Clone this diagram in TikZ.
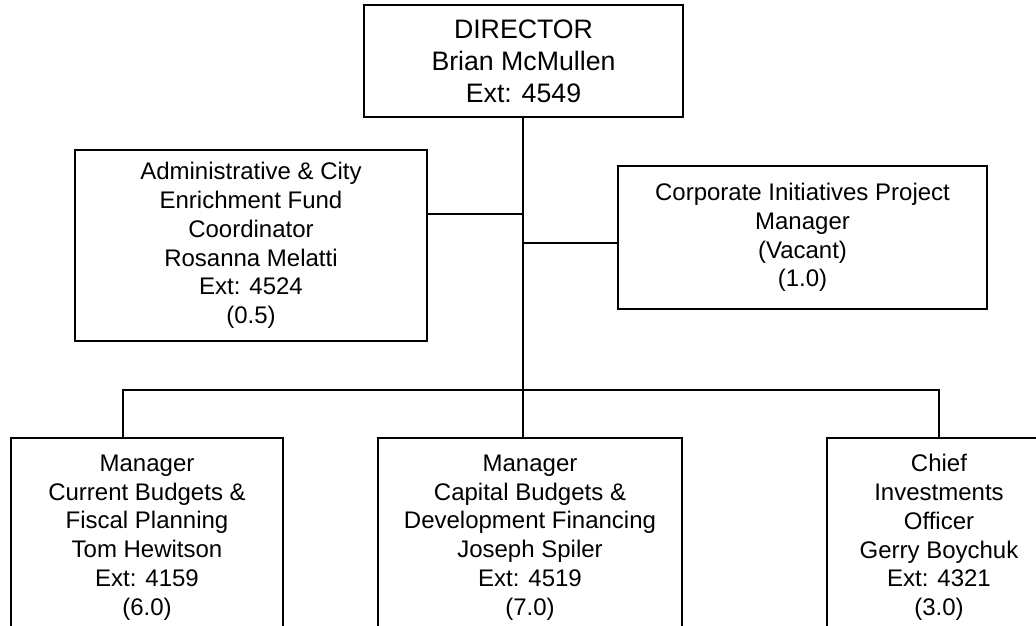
\documentclass[tikz,border=0pt]{standalone}
\usepackage{fontspec}
\setmainfont{Liberation Sans}
\usepackage{tikz}

\tikzset{
    post/.style={draw, line width=2.2pt, inner sep=0pt, align=center,
        font={\fontsize{24}{28.7}\selectfont}},
    link/.style={line width=2pt}
}

\begin{document}
\begin{tikzpicture}[x=1pt, y=-1pt]
    \clip (0, 0) rectangle (1036, 626);
    % Director
    \node [post, minimum width=319, minimum height=112,
        font={\fontsize{26.7}{32}\selectfont}] (director) at (523.5, 61)
        {DIRECTOR\\Brian McMullen\\Ext: 4549};

    % Staff posts beside the main line
    \node [post, minimum width=352, minimum height=191] (admin) at (251, 245.5)
        {Administrative \& City\\Enrichment Fund\\Coordinator\\Rosanna Melatti\\Ext: 4524\\(0.5)};
    \node [post, minimum width=369, minimum height=143] (corp) at (802.5, 237.5)
        {Corporate Initiatives Project\\Manager\\(Vacant)\\(1.0)};

    % Managers (boxes run off the page)
    \node [post, minimum width=272, minimum height=199] (budgets) at (147, 537.5)
        {Manager\\Current Budgets \&\\Fiscal Planning\\Tom Hewitson\\Ext: 4159\\(6.0)};
    \node [post, minimum width=304, minimum height=199] (capital) at (530, 537.5)
        {Manager\\Capital Budgets \&\\Development Financing\\Joseph Spiler\\Ext: 4519\\(7.0)};
    \node [post, minimum width=224, minimum height=199] (invest) at (939, 537.5)
        {Chief\\Investments\\Officer\\Gerry Boychuk\\Ext: 4321\\(3.0)};

    % Lines
    \coordinate (bus) at (523, 390);
    \coordinate (ajoin) at (523, 214);
    \coordinate (cjoin) at (523, 243);
    \draw [link] (director.south -| bus) -- (bus);
    \draw [link] (ajoin) -- (ajoin -| admin.east);
    \draw [link] (cjoin) -- (cjoin -| corp.west);
    \draw [link] ([xshift=-24]budgets.north) |- (bus) -| (invest.north);
    \draw [link] (bus) -- (bus |- capital.north); % middle drop
\end{tikzpicture}
\end{document}
